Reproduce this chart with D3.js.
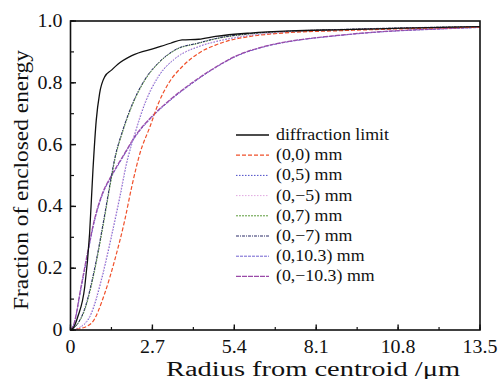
<!DOCTYPE html>
<html><head><meta charset="utf-8">
<script src="https://cdn.jsdelivr.net/npm/d3@7/dist/d3.min.js"></script>
<style>body{margin:0;background:#fff}svg{display:block}text{font-family:"Liberation Serif","Times New Roman",serif;fill:#111}</style>
</head><body><svg id="c" width="503" height="379"></svg>
<script>
const xTicks = [0, 2.7, 5.4, 8.1, 10.8, 13.5];
const yTicks = [0, 0.2, 0.4, 0.6, 0.8, 1.0];
const seriesNames = ["diffraction limit", "(0,0) mm", "(0,5) mm", "(0,\u22125) mm", "(0,7) mm", "(0,\u22127) mm", "(0,10.3) mm", "(0,\u221210.3) mm"];
const diffraction = [[0,0],[0.1,0.008],[0.24,0.043],[0.47,0.14],[0.63,0.313],[0.74,0.518],[0.85,0.68],[0.96,0.766],[1.13,0.82],[1.35,0.841],[1.57,0.861],[2.02,0.888],[2.79,0.912],[3.3,0.928],[3.68,0.939],[4.23,0.941],[4.78,0.95],[5.93,0.961],[7.24,0.968],[9,0.972],[11,0.977],[13.5,0.982]];
const s00 = [[0,0],[0.3,0.004],[0.69,0.022],[1.13,0.119],[1.46,0.227],[1.79,0.356],[2.02,0.464],[2.29,0.572],[2.62,0.658],[2.9,0.734],[3.23,0.798],[3.68,0.852],[4.23,0.896],[4.78,0.922],[5.16,0.935],[5.93,0.95],[7,0.961],[9,0.969],[11,0.975],[13.5,0.98]];
const s05 = [[0,0],[0.3,0.008],[0.69,0.054],[1.02,0.162],[1.35,0.302],[1.63,0.431],[1.85,0.539],[2.13,0.637],[2.46,0.734],[2.9,0.82],[3.46,0.879],[4.23,0.917],[4.78,0.933],[5.9,0.953],[7.2,0.964],[9,0.971],[11,0.976],[13.5,0.981]];
const s0m5 = [[0,0],[0.3,0.009],[0.68,0.056],[1.01,0.165],[1.34,0.305],[1.62,0.434],[1.84,0.541],[2.12,0.639],[2.45,0.736],[2.89,0.822],[3.45,0.88],[4.22,0.918],[4.77,0.934],[5.9,0.954],[7.2,0.965],[9,0.972],[11,0.977],[13.5,0.981]];
const s07 = [[0,0],[0.2,0.015],[0.47,0.065],[0.8,0.194],[1.07,0.334],[1.3,0.464],[1.46,0.55],[1.74,0.647],[2.02,0.723],[2.46,0.809],[2.9,0.863],[3.46,0.906],[4.23,0.928],[4.78,0.942],[5.9,0.958],[7.2,0.966],[9,0.972],[11,0.977],[13.5,0.982]];
const s0m7 = [[0,0],[0.2,0.016],[0.46,0.067],[0.79,0.197],[1.06,0.337],[1.29,0.466],[1.45,0.552],[1.73,0.649],[2.01,0.725],[2.45,0.811],[2.89,0.864],[3.45,0.907],[4.22,0.929],[4.77,0.943],[5.9,0.959],[7.2,0.967],[9,0.973],[11,0.978],[13.5,0.982]];
const s103 = [[0,0],[0.1,0.015],[0.36,0.14],[0.57,0.248],[0.8,0.356],[1.07,0.442],[1.35,0.496],[1.74,0.561],[2.18,0.631],[2.7,0.69],[3.35,0.748],[4.0,0.797],[4.8,0.85],[5.49,0.887],[6.26,0.913],[7.02,0.93],[7.6,0.939],[8.66,0.951],[10.3,0.965],[11.95,0.973],[13.5,0.979]];
const s0m103 = [[0,0],[0.1,0.016],[0.35,0.142],[0.56,0.25],[0.79,0.358],[1.06,0.444],[1.34,0.498],[1.73,0.563],[2.17,0.633],[2.69,0.692],[3.34,0.75],[3.99,0.799],[4.79,0.851],[5.48,0.888],[6.25,0.914],[7.01,0.931],[7.6,0.94],[8.66,0.952],[10.3,0.966],[11.95,0.974],[13.5,0.98]];
const seriesData = [diffraction, s00, s05, s0m5, s07, s0m7, s103, s0m103];
const colors = ["#111111", "#f0502a", "#4a4ac8", "#e0a8e0", "#5a9a3a", "#2a2a66", "#7060d0", "#9a4aa8"];
const dashes = [null, "4,2", "1.5,1.5", "1.5,1.5", "2,1", "3,1,1,1", "3,1", "5,1"];
const widths = [1.3, 1.2, 1, 1, 1, 1, 1, 1.2];

const svg = d3.select("#c");
const L = 70.5, R = 480, T = 21, B = 330;
const x = d3.scaleLinear().domain([0, 13.5]).range([L, R]);
const y = d3.scaleLinear().domain([0, 1]).range([B, T]);

const g = svg.append("g");
const line = d3.line().x(d => x(d[0])).y(d => y(d[1])).curve(d3.curveMonotoneX);
const order = [6, 7, 4, 5, 2, 3, 1, 0];
order.forEach(i => {
  g.append("path").attr("d", line(seriesData[i])).attr("fill", "none")
    .attr("stroke", colors[i]).attr("stroke-width", widths[i])
    .attr("stroke-dasharray", dashes[i]);
});

// axes (inward ticks)
const xMinor = d3.range(0, 13.51, 1.35);
const yMinor = d3.range(0, 1.001, 0.1);
const ax = svg.append("g");
xMinor.forEach(v => ax.append("line").attr("x1", x(v)).attr("x2", x(v)).attr("y1", B).attr("y2", B - 3).attr("stroke", "#111").attr("stroke-width", 1.2));
xTicks.forEach(v => ax.append("line").attr("x1", x(v)).attr("x2", x(v)).attr("y1", B).attr("y2", B - 5.5).attr("stroke", "#111").attr("stroke-width", 1.4));
yMinor.forEach(v => ax.append("line").attr("x1", L).attr("x2", L + 3.5).attr("y1", y(v)).attr("y2", y(v)).attr("stroke", "#111").attr("stroke-width", 1.2));
yTicks.forEach(v => ax.append("line").attr("x1", L).attr("x2", L + 5.5).attr("y1", y(v)).attr("y2", y(v)).attr("stroke", "#111").attr("stroke-width", 1.4));
ax.append("rect").attr("x", L).attr("y", T).attr("width", R - L).attr("height", B - T)
  .attr("fill", "none").attr("stroke", "#111").attr("stroke-width", 1.6);

function stretch(sel, f) {
  sel.each(function () { const w = this.getComputedTextLength(); d3.select(this).attr("textLength", w * f).attr("lengthAdjust", "spacingAndGlyphs"); });
}
const xl = ax.selectAll(".xl").data(xTicks).join("text").attr("class", "xl")
  .attr("x", d => x(d)).attr("y", B + 23).attr("text-anchor", "middle")
  .style("font-size", "19px").text(v => v === 0 ? "0" : d3.format(".1f")(v));
stretch(xl, 1.05);
const yl = ax.selectAll(".yl").data(yTicks).join("text").attr("class", "yl")
  .attr("x", L - 8).attr("y", d => y(d) + 6).attr("text-anchor", "end")
  .style("font-size", "19px").text(v => v === 0 ? "0" : d3.format(".1f")(v));
stretch(yl, 1.05);

const xt = svg.append("text").attr("x", 313).attr("y", 376).attr("text-anchor", "middle").style("font-size", "20px").text("Radius from centroid /\u03bcm");
xt.attr("textLength", 294).attr("lengthAdjust", "spacingAndGlyphs");
const yt = svg.append("text").attr("transform", "translate(28,180) rotate(-90)").attr("text-anchor", "middle").style("font-size", "20px").text("Fraction of enclosed energy");
yt.attr("textLength", 260).attr("lengthAdjust", "spacingAndGlyphs");

// legend
const lg = svg.append("g");
const legTexts = [];
seriesNames.forEach((n, i) => {
  const yy = 135 + i * 20.2;
  lg.append("line").attr("x1", 236).attr("x2", 269).attr("y1", yy).attr("y2", yy)
    .attr("stroke", colors[i]).attr("stroke-width", widths[i]).attr("stroke-dasharray", dashes[i]);
  legTexts.push(lg.append("text").attr("x", 276).attr("y", yy + 5).style("font-size", "16px").text(n).node());
});
const f = 113 / legTexts[0].getComputedTextLength();
stretch(d3.selectAll(legTexts), f);
</script></body></html>
